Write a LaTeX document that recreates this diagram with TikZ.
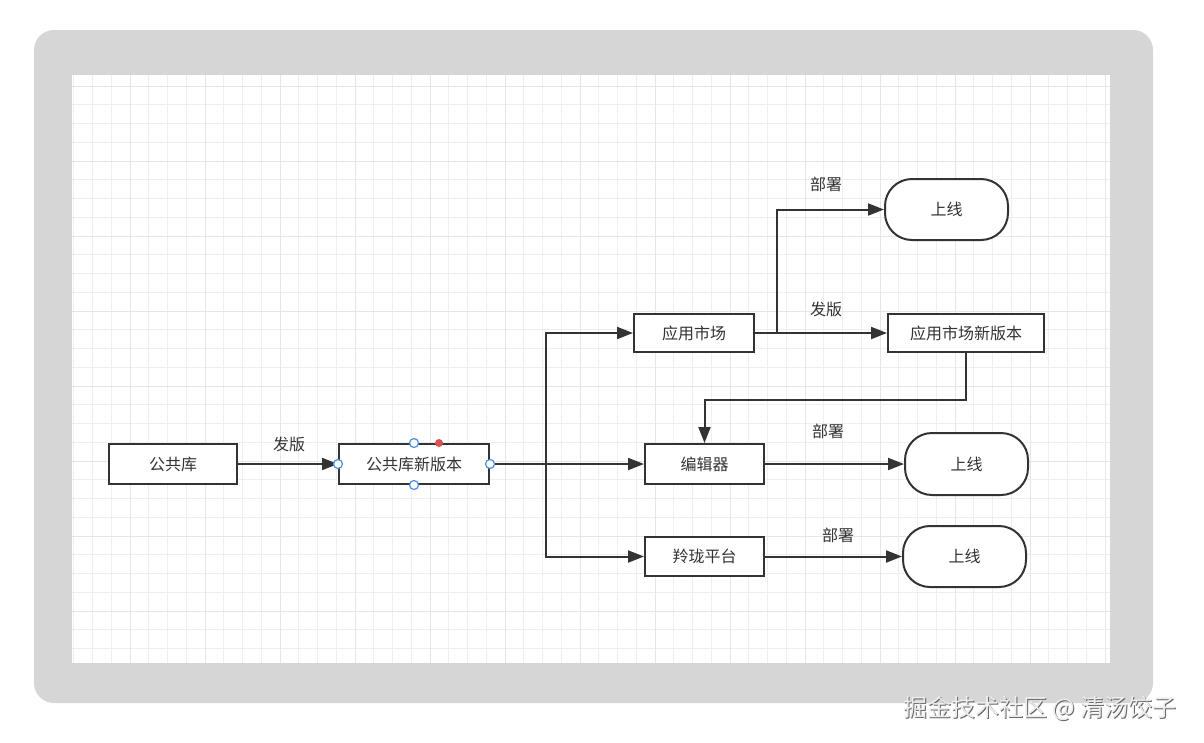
\documentclass[tikz,border=0pt]{standalone}
\usepackage{fontspec}
\newfontfamily\cjk{Noto Sans CJK SC}
\usetikzlibrary{arrows.meta,positioning}
\definecolor{frame}{HTML}{D6D6D6}
\definecolor{ink}{HTML}{333333}
\definecolor{gridminor}{HTML}{EFEFEF}
\definecolor{gridmajor}{HTML}{E6E6E6}
\definecolor{handle}{HTML}{4A90E2}
\definecolor{hot}{HTML}{D9534F}
\tikzset{
  box/.style={draw=ink,line width=2pt,fill=white,font=\cjk\fontsize{16}{19}\selectfont,text=ink,inner sep=0pt},
  term/.style={box,rounded corners=27pt},
  flow/.style={draw=ink,line width=2pt,-{Triangle[length=16pt,width=12pt]}},
  tag/.style={font=\cjk\fontsize{16}{19}\selectfont,text=ink},
  knob/.style={draw=handle,line width=1.2pt,fill=white}
}
\begin{document}
\begin{tikzpicture}[x=1pt,y=-1pt]
\useasboundingbox (0,0) rectangle (1204,742);
\fill[white] (0,0) rectangle (1204,742);
% frame and canvas
\fill[frame,rounded corners=20pt] (34,30) rectangle (1153,703);
\fill[white] (72,75) rectangle (1110,663);
\begin{scope}
\clip (72,75) rectangle (1110,663);
\foreach \i in {-8,...,48} {
  \draw[gridminor,line width=1pt] ({205+18.75*\i},75) -- ({205+18.75*\i},663);
}
\foreach \j in {-6,...,27} {
  \draw[gridminor,line width=1pt] (72,{161+18.75*\j}) -- (1110,{161+18.75*\j});
}
\foreach \i in {-2,...,12} {
  \draw[gridmajor,line width=1pt] ({205+75*\i},75) -- ({205+75*\i},663);
}
\foreach \j in {-1,...,7} {
  \draw[gridmajor,line width=1pt] (72,{161+75*\j}) -- (1110,{161+75*\j});
}
\end{scope}

% nodes
\node[box,minimum width=128pt,minimum height=40pt] (pub) at (173,464) {公共库};
\node[box,minimum width=150pt,minimum height=40pt] (pubnew) at (414,464) {公共库新版本};
\node[box,minimum width=120pt,minimum height=38pt] (market) at (694,333) {应用市场};
\node[box,minimum width=156pt,minimum height=38pt] (marketnew) at (966,333) {应用市场新版本};
\node[box,minimum width=119pt,minimum height=40pt] (editor) at (704.5,464) {编辑器};
\node[box,minimum width=119pt,minimum height=39pt] (ling) at (704.5,556.5) {羚珑平台};
\node[term,minimum width=123pt,minimum height=61pt] (online1) at (946.5,209.5) {上线};
\node[term,minimum width=123pt,minimum height=62pt] (online2) at (966.5,464) {上线};
\node[term,minimum width=123pt,minimum height=61pt] (online3) at (964.5,556.5) {上线};
\coordinate (split) at (546,464);
\coordinate (fork) at (777,333);

% connectors
\draw[flow] (pub.east) -- (pubnew.west);
\draw[flow] (pubnew.east) -- (editor.west);
\draw[flow] (split) |- (market.west);
\draw[flow] (split) |- (ling.west);
\draw[flow] (market.east) -- (marketnew.west);
\draw[flow] (fork) |- (online1.west);
\draw[flow] (marketnew.south) -- ++(0,47) -| (editor.north);
\draw[flow] (editor.east) -- (online2.west);
\draw[flow] (ling.east) -- (online3.west);

% labels
\node[tag] (l1) at (289,444) {发版};
\node[tag] (l2) at (826,184) {部署};
\node[tag] (l3) at (826,309) {发版};
\node[tag] (l4) at (828,431) {部署};
\node[tag] (l5) at (838,535) {部署};

% selection handles
\foreach \p in {west,east,north,south} {
  \draw[knob] (pubnew.\p) circle (4.5pt);
}
\fill[hot] (439,443) circle (4pt);

% watermark
\node[font=\cjk\fontsize{24}{28}\selectfont,text=gray!80!black] at (1041,709) {掘金技术社区 @ 清汤饺子};
\node[font=\cjk\fontsize{24}{28}\selectfont,text=white!93!black] at (1040,708) {掘金技术社区 @ 清汤饺子};
\end{tikzpicture}
\end{document}
